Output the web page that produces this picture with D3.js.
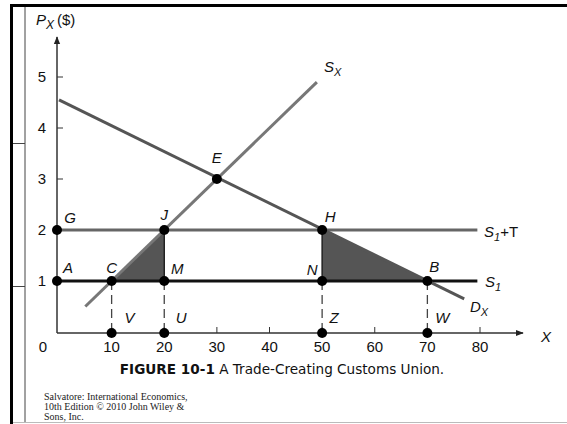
<!DOCTYPE html>
<html>
<head>
<meta charset="utf-8">
<script src="https://cdn.jsdelivr.net/npm/d3@7"></script>
<style>
  body { margin: 0; background: #fff; }
  svg { display: block; }
  .lbl { font-family: "Liberation Sans", Arial, sans-serif; font-style: italic; font-size: 15px; fill: #111; }
  .tick { font-family: "Liberation Sans", Arial, sans-serif; font-size: 15px; fill: #111; }
</style>
</head>
<body>
<div id="chart"></div>
<script>
// tick values
const xTicks = [0, 10, 20, 30, 40, 50, 60, 70, 80];
const yTicks = [1, 2, 3, 4, 5];

// curves (X, P)
const supplyX = [[5, 0.5], [49, 4.9]];
const demandX = [[0, 4.55], [77, 0.65]];
const supplyT = [[0, 2], [79.5, 2]];
const supply1 = [[0, 1], [79.5, 1]];

// shaded gains
const triangles = [
    [[10, 1], [20, 2], [20, 1]],
    [[50, 2], [50, 1], [70, 1]]
];

// labelled points
const points = [
    { name: "A", x: 0, p: 1 },
    { name: "G", x: 0, p: 2 },
    { name: "C", x: 10, p: 1 },
    { name: "M", x: 20, p: 1 },
    { name: "J", x: 20, p: 2 },
    { name: "E", x: 30, p: 3 },
    { name: "H", x: 50, p: 2 },
    { name: "N", x: 50, p: 1 },
    { name: "B", x: 70, p: 1 }
];
const drops = [
    { name: "V", x: 10 },
    { name: "U", x: 20 },
    { name: "Z", x: 50 },
    { name: "W", x: 70 }
];
const solidVerticals = [20, 50];

const width = 567;
const height = 424;

const x = d3.scaleLinear().domain([0, 80]).range([59, 480]);
const y = d3.scaleLinear().domain([0, 5]).range([332, 77]);

const svg = d3.select("#chart").append("svg")
    .attr("width", width)
    .attr("height", height);

// slide frame
svg.append("line").attr("x1", 11.5).attr("x2", 11.5).attr("y1", 4).attr("y2", height)
    .attr("stroke", "#000").attr("stroke-width", 3);
svg.append("line").attr("x1", 10).attr("x2", width).attr("y1", 5.5).attr("y2", 5.5)
    .attr("stroke", "#000").attr("stroke-width", 3);
svg.append("line").attr("x1", 25).attr("x2", 25).attr("y1", 7).attr("y2", 422)
    .attr("stroke", "#444").attr("stroke-width", 1);
svg.append("line").attr("x1", 13).attr("x2", width).attr("y1", 422.5).attr("y2", 422.5)
    .attr("stroke", "#bbb").attr("stroke-width", 1);
[143, 286].forEach(v => {
    svg.append("line").attr("x1", 13).attr("x2", 25).attr("y1", v + 0.5).attr("y2", v + 0.5)
        .attr("stroke", "#444").attr("stroke-width", 1);
});

const line = d3.line().x(d => x(d[0])).y(d => y(d[1]));

// shaded triangles
svg.append("g").selectAll("path")
    .data(triangles)
    .join("path")
    .attr("d", d => line(d) + "Z")
    .attr("fill", "#555");

// axes
const defs = svg.append("defs");
defs.append("marker")
    .attr("id", "arrow")
    .attr("viewBox", "0 0 10 10")
    .attr("refX", 9).attr("refY", 5)
    .attr("markerWidth", 8).attr("markerHeight", 8)
    .attr("markerUnits", "userSpaceOnUse")
    .attr("orient", "auto")
    .append("path").attr("d", "M0,1 L10,5 L0,9 Z").attr("fill", "#222");

const x0 = x(0) - 2;
svg.append("line")
    .attr("x1", x0).attr("x2", x0).attr("y1", y(0) + 1).attr("y2", 37)
    .attr("stroke", "#333").attr("stroke-width", 1.5).attr("marker-end", "url(#arrow)");
svg.append("line")
    .attr("x1", x0).attr("x2", 523).attr("y1", y(0) + 1).attr("y2", y(0) + 1)
    .attr("stroke", "#333").attr("stroke-width", 1.5).attr("marker-end", "url(#arrow)");

// small tick marks
svg.append("g").selectAll("line")
    .data(xTicks.filter(t => t > 0))
    .join("line")
    .attr("x1", d => x(d)).attr("x2", d => x(d))
    .attr("y1", y(0) + 1).attr("y2", y(0) - 5)
    .attr("stroke", "#333");
svg.append("g").selectAll("line")
    .data(yTicks)
    .join("line")
    .attr("x1", x0).attr("x2", x0 + 6)
    .attr("y1", d => y(d)).attr("y2", d => y(d))
    .attr("stroke", "#333");

// tick labels
svg.append("g").selectAll("text")
    .data(xTicks)
    .join("text")
    .attr("class", "tick")
    .attr("x", d => d === 0 ? 43 : x(d))
    .attr("y", y(0) + 20)
    .attr("text-anchor", "middle")
    .text(d => d);
svg.append("g").selectAll("text")
    .data(yTicks)
    .join("text")
    .attr("class", "tick")
    .attr("x", 42)
    .attr("y", d => y(d) + 5)
    .attr("text-anchor", "middle")
    .text(d => d);

// dashed drop lines
svg.append("g").selectAll("line")
    .data(drops)
    .join("line")
    .attr("x1", d => x(d.x)).attr("x2", d => x(d.x))
    .attr("y1", y(1)).attr("y2", y(0))
    .attr("stroke", "#444").attr("stroke-width", 1.3)
    .attr("stroke-dasharray", "9,5");

// solid verticals J-M, H-N
svg.append("g").selectAll("line")
    .data(solidVerticals)
    .join("line")
    .attr("x1", d => x(d)).attr("x2", d => x(d))
    .attr("y1", y(2)).attr("y2", y(1))
    .attr("stroke", "#222").attr("stroke-width", 1.5);

// curves
svg.append("path").attr("d", line(supplyT)).attr("fill", "none")
    .attr("stroke", "#666").attr("stroke-width", 3);
svg.append("path").attr("d", line(supply1)).attr("fill", "none")
    .attr("stroke", "#111").attr("stroke-width", 3);
svg.append("path").attr("d", line(supplyX)).attr("fill", "none")
    .attr("stroke", "#777").attr("stroke-width", 3);
svg.append("path").attr("d", line(demandX)).attr("fill", "none")
    .attr("stroke", "#555").attr("stroke-width", 3);

// dots
svg.append("g").selectAll("circle")
    .data(points.map(d => [d.x, d.p]).concat(drops.map(d => [d.x, 0])))
    .join("circle")
    .attr("cx", d => d[0] === 0 ? x0 : x(d[0]))
    .attr("cy", d => d[1] === 0 ? y(0) + 1 : y(d[1]))
    .attr("r", 5)
    .attr("fill", "#000");

// point labels
const offsets = {
    A: [11, -8], G: [13, -7], C: [0, -8], M: [13, -7], J: [0, -10],
    E: [0, -16], H: [8, -8], N: [-10, -6], B: [7, -9],
    V: [18, -9], U: [17, -9], Z: [12, -9], W: [15, -9]
};
svg.append("g").selectAll("text")
    .data(points)
    .join("text")
    .attr("class", "lbl")
    .attr("x", d => (d.x === 0 ? x0 : x(d.x)) + offsets[d.name][0])
    .attr("y", d => y(d.p) + offsets[d.name][1])
    .attr("text-anchor", "middle")
    .text(d => d.name);
svg.append("g").selectAll("text")
    .data(drops)
    .join("text")
    .attr("class", "lbl")
    .attr("x", d => x(d.x) + offsets[d.name][0])
    .attr("y", d => y(0) + offsets[d.name][1])
    .attr("text-anchor", "middle")
    .text(d => d.name);

// curve labels with subscripts
function subLabel(px, py, main, sub, rest) {
    const t = svg.append("text").attr("class", "lbl").attr("x", px).attr("y", py);
    t.append("tspan").text(main);
    t.append("tspan").attr("dy", 4).attr("font-size", 11).text(sub);
    if (rest) t.append("tspan").attr("dy", -4).style("font-style", "normal").text(rest);
    return t;
}
subLabel(324, 72, "S", "X");
subLabel(484, 237, "S", "1", "+T");
subLabel(485, 287, "S", "1");
subLabel(470, 312, "D", "X");
const py = svg.append("text").attr("class", "lbl").attr("x", 36).attr("y", 25).attr("font-size", 16);
py.append("tspan").text("P");
py.append("tspan").attr("dy", 4).attr("font-size", 12).text("X");
py.append("tspan").attr("dy", -4).attr("dx", 3).style("font-style", "normal").text("($)");
svg.append("text").attr("class", "lbl").attr("x", 541).attr("y", 342).attr("font-size", 16).text("X");

// caption
const cap = svg.append("text")
    .attr("x", 282).attr("y", 374)
    .attr("text-anchor", "middle")
    .attr("font-family", "'DejaVu Sans', Verdana, sans-serif")
    .attr("font-size", 13.6)
    .attr("fill", "#111");
cap.append("tspan").attr("font-weight", "bold").text("FIGURE 10-1");
cap.append("tspan").text(" A Trade-Creating Customs Union.");

// source note
const src = svg.append("text")
    .attr("font-family", "'Liberation Serif', 'Times New Roman', serif")
    .attr("font-size", 10)
    .attr("fill", "#222");
["Salvatore: International Economics,", "10th Edition  \u00a9 2010 John Wiley &", "Sons, Inc."]
    .forEach((s, i) => src.append("tspan").attr("x", 44).attr("y", 400 + i * 10).text(s));
</script>
</body>
</html>
